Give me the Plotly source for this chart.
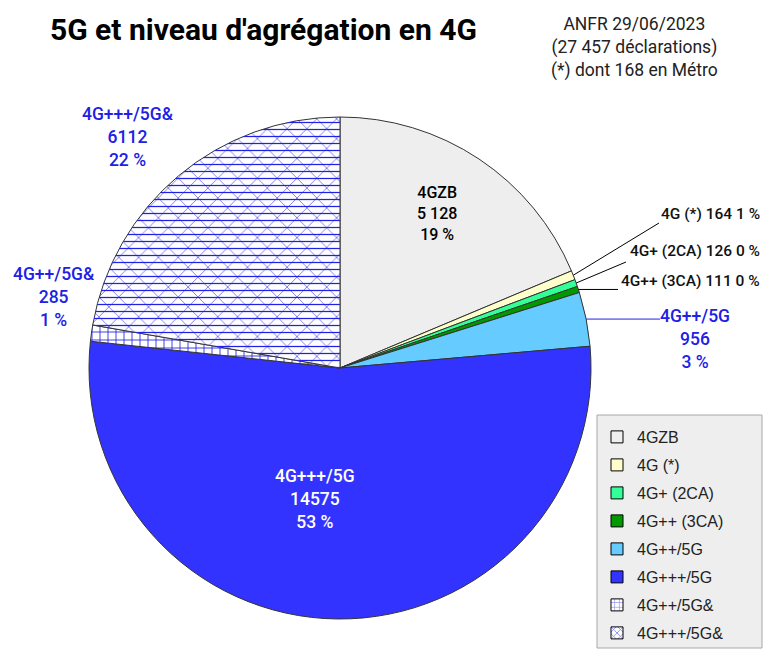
import numpy as np
import plotly.graph_objects as go

W, H = 767, 652

# data
labels = ['4GZB', '4G (*)', '4G+ (2CA)', '4G++ (3CA)', '4G++/5G', '4G+++/5G', '4G++/5G&', '4G+++/5G&']
values = [5128, 164, 126, 111, 956, 14575, 285, 6112]
value_text = ['5 128', '164', '126', '111', '956', '14575', '285', '6112']
percents = ['19 %', '1 %', '0 %', '0 %', '3 %', '53 %', '1 %', '22 %']
colors = ['#eeeeee', '#ffffcc', '#33ff99', '#009a00', '#66ccff', '#3333ff', '#ffffff', '#ffffff']
patterns = ['', '', '', '', '', '', '+', 'x']

BLUE = '#2020e6'
CX, CY, R = 340, 368, 251   # pie centre / radius in pixels


def px(x, y):
    return x / W, 1 - y / H


def edge_point(i):
    # point on the rim at the middle of slice i (clockwise from 12 o'clock)
    cum = np.cumsum([0] + values)
    frac = (cum[i] + values[i] / 2) / cum[-1]
    a = 2 * np.pi * frac
    return CX + R * np.sin(a), CY - R * np.cos(a)


dom_x = [(CX - R) / W, (CX + R) / W]
dom_y = [1 - (CY + R) / H, 1 - (CY - R) / H]

fig = go.Figure()

fig.add_trace(go.Pie(
    labels=labels, values=values, sort=False, direction='clockwise', rotation=0,
    domain=dict(x=dom_x, y=dom_y), textinfo='none', hoverinfo='skip', showlegend=False,
    marker=dict(colors=colors, line=dict(color='#333333', width=1),
                pattern=dict(shape=patterns, fgcolor=[BLUE] * 7 + ['#7070ea'],
                             bgcolor=colors, size=[8] * 7 + [14], solidity=[0.2] * 7 + [0.12])),
))
# horizontal lines on top of the cross-hatched slice
fig.add_trace(go.Pie(
    labels=labels, values=values, sort=False, direction='clockwise', rotation=0,
    domain=dict(x=dom_x, y=dom_y), textinfo='none', hoverinfo='skip', showlegend=False,
    marker=dict(colors=['rgba(0,0,0,0)'] * 8, line=dict(width=0),
                pattern=dict(shape=[''] * 7 + ['-'], fgcolor=BLUE,
                             bgcolor='rgba(0,0,0,0)', size=7, solidity=0.18)),
))

# legend entries
for lab, col, pat in zip(labels, colors, patterns):
    fig.add_trace(go.Bar(
        x=[None], y=[None], name=lab, legendgroup=lab,
        marker=dict(color=col, line=dict(color='#000000', width=1),
                    pattern=dict(shape=pat, fgcolor=BLUE, bgcolor=col, size=6,
                                 solidity=0.35 if pat == 'x' else 0.25)),
    ))

ann = []
# title and source
x, y = px(48, 30)
ann.append(dict(x=x, y=y, xanchor='left', yanchor='middle',
                text="<b>5G et niveau d'agrégation en 4G</b>",
                font=dict(family='Roboto', size=30, color='#000000')))
x, y = px(634, 47)
ann.append(dict(x=x, y=y, xanchor='center', yanchor='middle',
                text='ANFR 29/06/2023<br>(27 457 déclarations)<br>(*) dont 168 en Métro',
                font=dict(family='Roboto', size=17.5, color='#222222')))

# slice labels
multi = {0: (437, 213, '#000000', 16), 5: (315, 499, '#ffffff', 17.5),
         4: (695, 339, BLUE, 17.5), 6: (54, 297, BLUE, 17.5), 7: (128, 137, BLUE, 17.5)}
for i, (lx, ly, c, s) in multi.items():
    x, y = px(lx, ly)
    txt = '%s<br>%s<br>%s' % (labels[i], value_text[i], percents[i])
    ann.append(dict(x=x, y=y, xanchor='center', yanchor='middle',
                    text=txt, font=dict(family='Roboto', size=s, color=c, weight=500)))

# small slices, single line labels on the right with leader lines
shapes = []
right = {1: (214, 659, 223), 2: (251, 626, 262), 3: (281, 618, 288)}
for i, (ly, ex, ey) in right.items():
    x, y = px(762, ly)
    ann.append(dict(x=x, y=y, xanchor='right', yanchor='middle',
                    text='%s %s %s' % (labels[i], value_text[i], percents[i]),
                    font=dict(family='Roboto', size=15.5, color='#111111', weight=500)))
    sx, sy = edge_point(i)
    if i == 3:
        ey = sy
    x0, y0 = px(sx, sy)
    x1, y1 = px(ex, ey)
    shapes.append(dict(type='line', xref='paper', yref='paper', x0=x0, y0=y0, x1=x1, y1=y1,
                       line=dict(color='#000000', width=1)))
sx, sy = edge_point(4)
x0, y0 = px(sx, sy)
x1, y1 = px(660, sy)
shapes.append(dict(type='line', xref='paper', yref='paper', x0=x0, y0=y0, x1=x1, y1=y1,
                   line=dict(color=BLUE, width=1)))

for a in ann:
    a.update(xref='paper', yref='paper', showarrow=False)

# legend box
x0, y0 = px(597, 648)
x1, y1 = px(762, 415)
shapes.append(dict(type='rect', xref='paper', yref='paper', x0=x0, y0=y0, x1=x1, y1=y1,
                   fillcolor='#eeeeee', line=dict(color='#a8a8a8', width=1), layer='below'))

lx, ly = px(597, 420)
fig.update_layout(
    width=W, height=H, margin=dict(l=0, r=0, t=0, b=0),
    paper_bgcolor='#ffffff', plot_bgcolor='rgba(0,0,0,0)',
    xaxis=dict(visible=False), yaxis=dict(visible=False),
    annotations=ann, shapes=shapes,
    legend=dict(x=lx, y=ly, xanchor='left', yanchor='top', bgcolor='rgba(0,0,0,0)',
                font=dict(family='Liberation Sans', size=16, color='#222222'),
                tracegroupgap=4.2, traceorder='grouped'),
)

fig.write_html("out.html", config={'displayModeBar': False},
               post_script="document.body.style.margin='0';")
